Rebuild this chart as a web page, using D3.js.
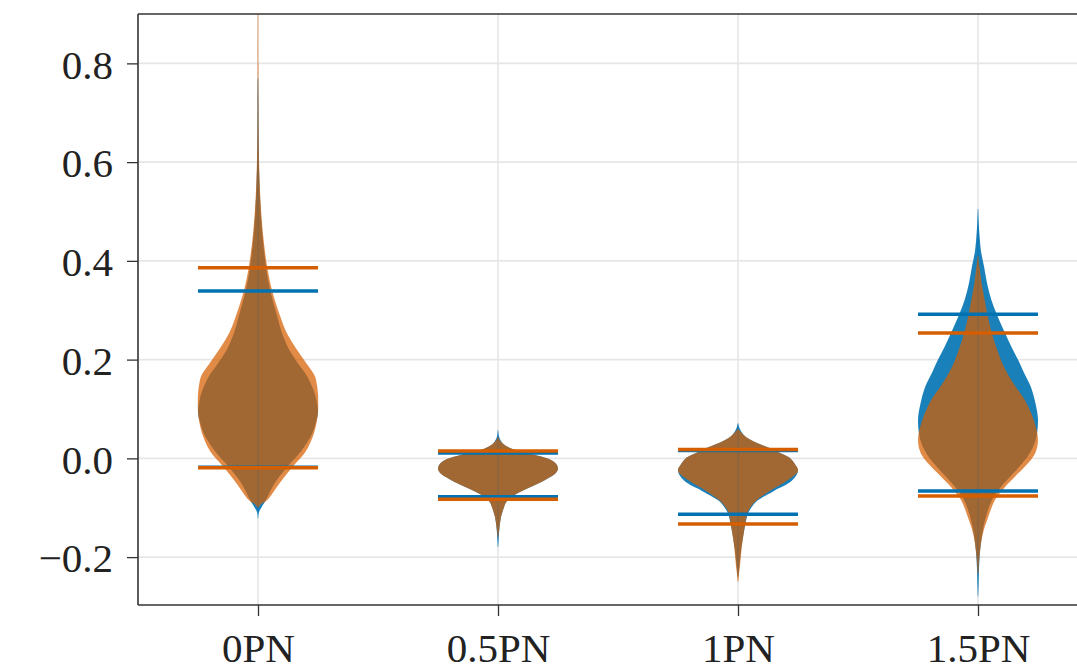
<!DOCTYPE html>
<html>
<head>
<meta charset="utf-8">
<script src="https://cdn.jsdelivr.net/npm/d3@7"></script>
<style>
  html, body { margin: 0; padding: 0; background: #fff; }
  svg { display: block; }
</style>
</head>
<body>
<svg id="chart" width="1077" height="670"></svg>
<script>
// ---------------- DATA ----------------
const categories = ["0PN", "0.5PN", "1PN", "1.5PN"];
const yTicks = [-0.2, 0.0, 0.2, 0.4, 0.6, 0.8];

// density profiles: [value, relative density (max = 1)]
const blueDensity = [
  [[-0.122,0],[-0.11,0.012],[-0.099,0.06],[-0.085,0.13],[-0.052,0.27],[-0.018,0.48],[0.015,0.72],[0.05,0.9],[0.075,0.97],[0.094,1.0],[0.12,0.97],[0.14,0.92],[0.166,0.82],[0.19,0.68],[0.22,0.52],[0.254,0.4],[0.288,0.32],[0.342,0.2],[0.39,0.13],[0.458,0.07],[0.525,0.035],[0.59,0.016],[0.65,0.008],[0.72,0.004],[0.77,0]],
  [[-0.18,0],[-0.16,0.012],[-0.14,0.025],[-0.119,0.05],[-0.099,0.1],[-0.09,0.13],[-0.082,0.18],[-0.075,0.26],[-0.069,0.35],[-0.062,0.47],[-0.055,0.6],[-0.047,0.74],[-0.038,0.87],[-0.03,0.96],[-0.021,1.0],[-0.01,0.96],[-0.001,0.84],[0.006,0.65],[0.013,0.42],[0.02,0.22],[0.028,0.1],[0.035,0.05],[0.045,0.015],[0.057,0]],
  [[-0.24,0],[-0.216,0.025],[-0.182,0.055],[-0.148,0.1],[-0.114,0.16],[-0.1,0.22],[-0.086,0.32],[-0.066,0.6],[-0.045,0.9],[-0.025,1.0],[-0.012,0.95],[0.002,0.85],[0.011,0.7],[0.02,0.55],[0.027,0.4],[0.033,0.28],[0.04,0.17],[0.047,0.1],[0.055,0.05],[0.063,0.02],[0.071,0]],
  [[-0.28,0],[-0.255,0.008],[-0.22,0.018],[-0.187,0.035],[-0.153,0.07],[-0.119,0.13],[-0.085,0.23],[-0.058,0.38],[-0.018,0.68],[0.01,0.86],[0.037,0.96],[0.077,1.0],[0.11,0.96],[0.145,0.88],[0.175,0.76],[0.199,0.67],[0.225,0.56],[0.254,0.45],[0.29,0.32],[0.322,0.22],[0.355,0.15],[0.389,0.1],[0.42,0.05],[0.457,0.022],[0.48,0.01],[0.505,0]]
];
const orangeDensity = [
  [[-0.1,0],[-0.092,0.06],[-0.085,0.15],[-0.052,0.35],[-0.018,0.57],[0.015,0.8],[0.05,0.93],[0.075,0.98],[0.094,1.0],[0.13,1.0],[0.15,0.98],[0.166,0.95],[0.19,0.82],[0.22,0.65],[0.254,0.48],[0.288,0.37],[0.342,0.23],[0.39,0.15],[0.458,0.08],[0.525,0.04],[0.59,0.02],[0.65,0.01],[0.72,0.006],[0.8,0.003],[0.9,0]],
  [[-0.16,0],[-0.14,0.025],[-0.119,0.05],[-0.099,0.1],[-0.09,0.13],[-0.082,0.18],[-0.075,0.26],[-0.069,0.35],[-0.062,0.47],[-0.055,0.6],[-0.047,0.74],[-0.038,0.87],[-0.03,0.96],[-0.021,1.0],[-0.01,0.96],[-0.001,0.84],[0.006,0.65],[0.013,0.42],[0.02,0.22],[0.028,0.1],[0.035,0.04],[0.043,0]],
  [[-0.25,0],[-0.216,0.035],[-0.182,0.06],[-0.148,0.1],[-0.114,0.15],[-0.1,0.2],[-0.086,0.3],[-0.066,0.53],[-0.045,0.82],[-0.025,1.0],[-0.012,0.95],[0.002,0.85],[0.011,0.7],[0.02,0.55],[0.027,0.4],[0.033,0.28],[0.04,0.17],[0.047,0.1],[0.054,0.04],[0.06,0]],
  [[-0.235,0],[-0.221,0.01],[-0.187,0.035],[-0.153,0.08],[-0.119,0.17],[-0.085,0.28],[-0.058,0.45],[-0.035,0.63],[-0.018,0.77],[0.0095,0.95],[0.037,1.0],[0.077,0.93],[0.118,0.78],[0.15,0.6],[0.186,0.43],[0.22,0.32],[0.254,0.23],[0.29,0.16],[0.322,0.11],[0.355,0.06],[0.389,0.025],[0.41,0]]
];

// horizontal marker lines [lower, upper]
const bluePercentiles   = [[-0.018, 0.339], [-0.078, 0.011], [-0.113, 0.016], [-0.066, 0.292]];
const orangePercentiles = [[-0.019, 0.386], [-0.083, 0.015], [-0.133, 0.018], [-0.076, 0.254]];

// ---------------- CHART ----------------
const W = 1077, H = 670;
const mLeft = 138, mTop = 14, mBottom = 605, mRight = 1098;
const svg = d3.select("#chart");
const fontFamily = "'Liberation Serif', 'Times New Roman', Times, serif";

const x = d3.scaleLinear().domain([0.5, 4.5]).range([mLeft, mRight]);
const y = d3.scaleLinear().domain([-0.297, 0.9]).range([mBottom, mTop]);
const halfWidth = 0.25;

const blueFill = "#0072B2", orangeFill = "#D55E00";

// grid
const grid = svg.append("g");
grid.selectAll("line.h").data(yTicks).join("line")
  .attr("x1", mLeft).attr("x2", W + 30)
  .attr("y1", d => y(d)).attr("y2", d => y(d))
  .attr("stroke", "#e6e6e6").attr("stroke-width", 1.6);
grid.selectAll("line.v").data(categories).join("line")
  .attr("x1", (d, i) => x(i + 1)).attr("x2", (d, i) => x(i + 1))
  .attr("y1", mTop).attr("y2", mBottom)
  .attr("stroke", "#e6e6e6").attr("stroke-width", 1.6);

function violinArea(pos) {
  return d3.area()
    .curve(d3.curveCatmullRom.alpha(0.5))
    .y(d => y(d[0]))
    .x0(d => x(pos - d[1] * halfWidth))
    .x1(d => x(pos + d[1] * halfWidth));
}

const bodies = svg.append("g");
blueDensity.forEach((prof, i) => {
  bodies.append("path").datum(prof)
    .attr("d", violinArea(i + 1))
    .attr("fill", blueFill).attr("fill-opacity", 0.9);
});
orangeDensity.forEach((prof, i) => {
  bodies.append("path").datum(prof)
    .attr("d", violinArea(i + 1))
    .attr("fill", orangeFill).attr("fill-opacity", 0.72);
});

// centre bars
const cbars = svg.append("g");
[[blueDensity, blueFill], [orangeDensity, orangeFill]].forEach(([dens, col]) => {
  dens.forEach((prof, i) => {
    cbars.append("line")
      .attr("x1", x(i + 1)).attr("x2", x(i + 1))
      .attr("y1", y(prof[0][0])).attr("y2", y(prof[prof.length - 1][0]))
      .attr("stroke", col).attr("stroke-opacity", 0.3).attr("stroke-width", 1.4);
  });
});

// percentile lines
const plines = svg.append("g");
[[bluePercentiles, blueFill], [orangePercentiles, orangeFill]].forEach(([pcts, col]) => {
  pcts.forEach((pair, i) => {
    pair.forEach(v => {
      plines.append("line")
        .attr("x1", x(i + 1 - halfWidth)).attr("x2", x(i + 1 + halfWidth))
        .attr("y1", y(v)).attr("y2", y(v))
        .attr("stroke", col).attr("stroke-width", 3.5);
    });
  });
});

// axes
const yAxis = d3.axisLeft(y).tickValues(yTicks).tickFormat(d3.format(".1f"))
  .tickSize(11).tickPadding(14);
const gy = svg.append("g").attr("transform", `translate(${mLeft},0)`).call(yAxis);
gy.select(".domain").remove();
gy.selectAll(".tick line").attr("stroke", "#333").attr("stroke-width", 1.3);
gy.selectAll(".tick text").attr("font-family", fontFamily).attr("font-size", 41)
  .attr("fill", "#222").attr("dy", "0.36em");

const xAxis = d3.axisBottom(x).tickValues([1, 2, 3, 4]).tickFormat(d => categories[d - 1])
  .tickSize(11);
const gx = svg.append("g").attr("transform", `translate(0,${mBottom})`).call(xAxis);
gx.select(".domain").remove();
gx.selectAll(".tick line").attr("stroke", "#333").attr("stroke-width", 1.3);
gx.selectAll(".tick text").attr("font-family", fontFamily).attr("font-size", 41)
  .attr("fill", "#222").attr("y", 57).attr("dy", 0);

// spines
const sp = svg.append("g").attr("stroke", "#333").attr("stroke-width", 1.6).attr("fill", "none");
sp.append("line").attr("x1", mLeft).attr("x2", mLeft).attr("y1", mTop).attr("y2", mBottom);
sp.append("line").attr("x1", mLeft).attr("x2", W + 5).attr("y1", mBottom).attr("y2", mBottom);
sp.append("line").attr("x1", mLeft).attr("x2", W + 5).attr("y1", mTop).attr("y2", mTop);
</script>
</body>
</html>
